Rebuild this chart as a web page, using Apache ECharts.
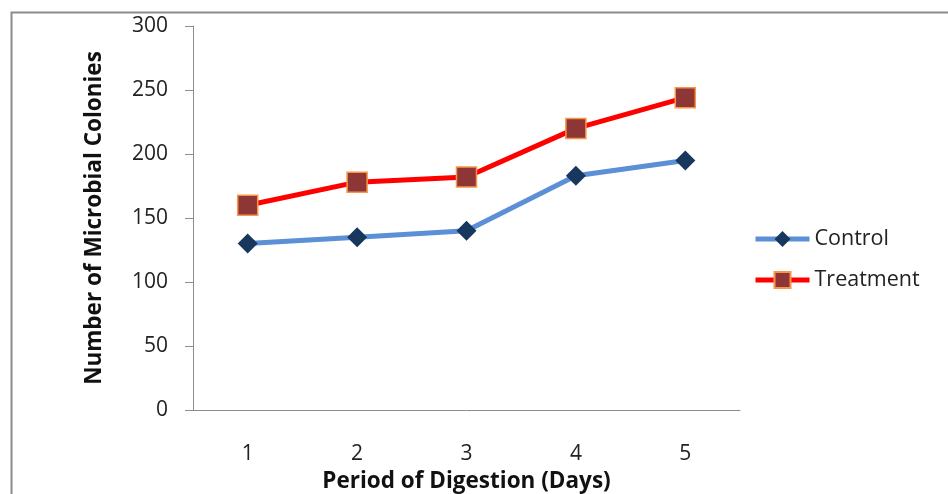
<!DOCTYPE html>
<html>
<head>
<meta charset="utf-8">
<script src="https://cdn.jsdelivr.net/npm/echarts@6/dist/echarts.min.js"></script>
<style>html,body{margin:0;padding:0;background:#fff}#c{width:948px;height:494px}</style>
</head>
<body>
<div id="c"></div>
<script>
const categories = ['1', '2', '3', '4', '5'];
const controlValues = [130, 135, 140, 183, 195];
const treatmentValues = [160, 178, 182, 220, 244];
const yTicks = [0, 50, 100, 150, 200, 250, 300];

const FONT = '"Open Sans", Lato, sans-serif';
const chart = echarts.init(document.getElementById('c'), null, {renderer: 'canvas'});
chart.setOption({
  animation: false,
  backgroundColor: '#fff',
  graphic: [{
    type: 'rect', left: 9, top: 10, z: -1,
    shape: {width: 960, height: 510},
    style: {fill: 'none', stroke: '#8c8c8c', lineWidth: 2}
  }],
  grid: {left: 193, top: 26, width: 547, height: 384, containLabel: false, outerBoundsMode: 'none'},
  legend: {
    orient: 'vertical', left: 753, top: 228, itemGap: 19, padding: 0,
    itemWidth: 54, itemHeight: 20,
    lineStyle: {width: 5},
    textStyle: {fontFamily: FONT, fontSize: 21.5, color: '#222', padding: [0, 0, 0, 0]},
    data: ['Control', 'Treatment']
  },
  xAxis: {
    type: 'category', data: categories, boundaryGap: true,
    name: 'Period of Digestion (Days)', nameLocation: 'middle', nameGap: 56,
    nameTextStyle: {fontFamily: FONT, fontSize: 22.5, fontWeight: 'bold', color: '#111'},
    axisLine: {lineStyle: {color: '#8c8c8c', width: 1}},
    axisTick: {show: false},
    axisLabel: {fontFamily: FONT, fontSize: 21, color: '#222', margin: 34}
  },
  yAxis: {
    type: 'value', min: yTicks[0], max: yTicks[yTicks.length - 1], interval: 50,
    name: 'Number of Microbial Colonies', nameLocation: 'middle', nameGap: 87, nameRotate: 90,
    nameTextStyle: {fontFamily: FONT, fontSize: 22.5, fontWeight: 'bold', color: '#111'},
    axisLine: {show: true, lineStyle: {color: '#8c8c8c', width: 1}},
    axisTick: {show: true, length: 8, lineStyle: {color: '#8c8c8c'}},
    splitLine: {show: false},
    axisLabel: {fontFamily: FONT, fontSize: 21, color: '#222', margin: 25}
  },
  series: [
    {
      name: 'Control', type: 'line', data: controlValues,
      symbol: 'diamond', symbolSize: 20,
      lineStyle: {color: '#5b8fd6', width: 5},
      itemStyle: {color: '#17375e', borderColor: '#17375e', borderWidth: 0}
    },
    {
      name: 'Treatment', type: 'line', data: treatmentValues,
      symbol: 'rect', symbolSize: 20,
      lineStyle: {color: '#ff0000', width: 5},
      itemStyle: {color: '#8e3535', borderColor: '#f79646', borderWidth: 1.5}
    }
  ]
});
</script>
</body>
</html>
